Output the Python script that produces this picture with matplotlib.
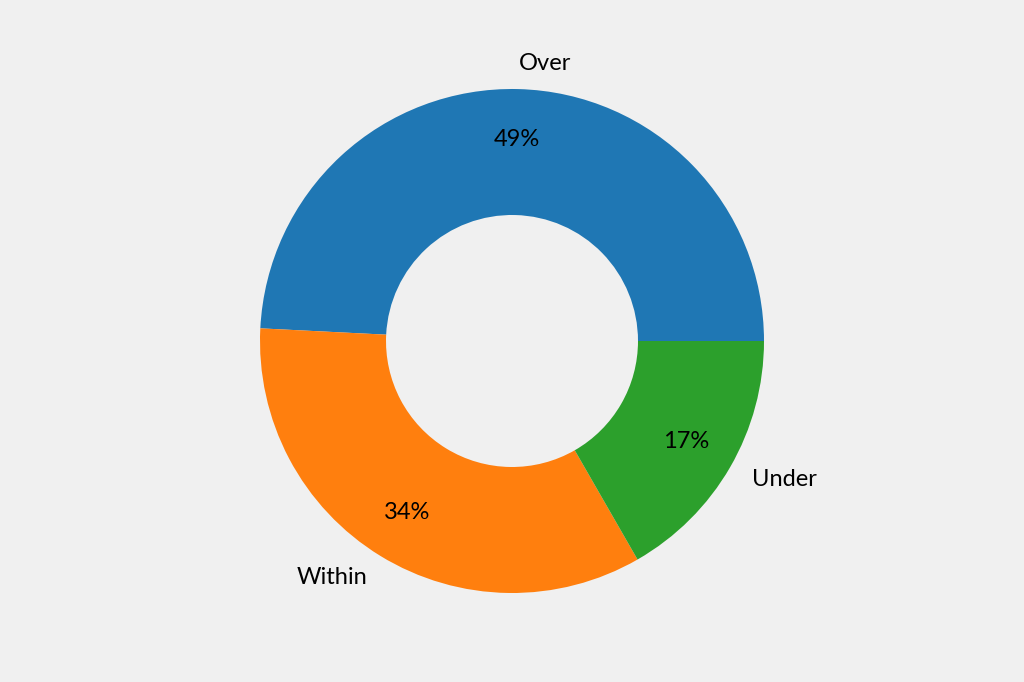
import matplotlib
matplotlib.use("Agg")
import matplotlib.pyplot as plt

### Data
labels = ["Over", "Within", "Under"]
shares = [49.2, 34.1, 16.7]
colours = ["#1f77b4", "#ff7f0e", "#2ca02c"]

plt.rcParams['font.family'] = ['Lato', 'DejaVu Sans']

fig = plt.figure(figsize=(10.24, 6.82), dpi=100, facecolor="#f0f0f0")
ax = fig.add_axes([0, 26 / 682.0, 1, 630 / 682.0])
ax.set_facecolor("#f0f0f0")

wedges, texts, autotexts = ax.pie(shares, labels=labels, colors=colours,
                                  autopct="%1.0f%%", pctdistance=0.8,
                                  labeldistance=1.1, startangle=0,
                                  wedgeprops=dict(width=0.5),
                                  textprops=dict(fontsize=17, color="black"))
ax.set_aspect("equal")

fig.savefig("out.png", dpi=100, facecolor=fig.get_facecolor())
